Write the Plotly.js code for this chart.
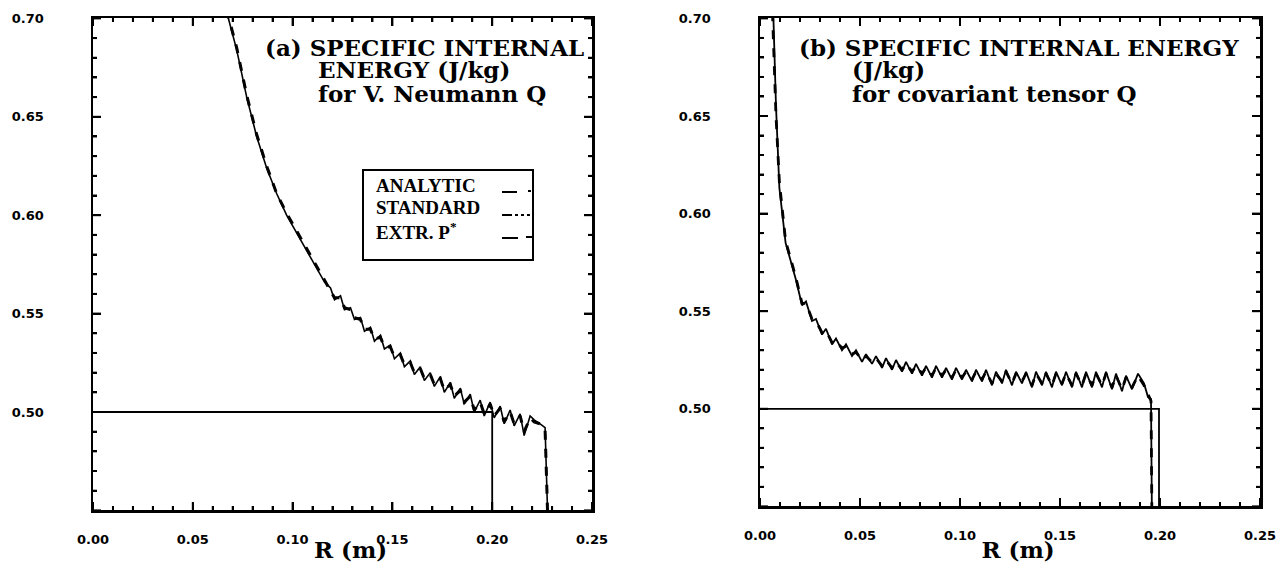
<!DOCTYPE html>
<html>
<head>
<meta charset="utf-8">
<script src="https://cdn.plot.ly/plotly-3.0.1.min.js"></script>
<style>html,body{margin:0;padding:0;background:#fff;}#chart{width:1282px;height:563px;}</style>
</head>
<body>
<div id="chart"></div>
<script>
// ---------------- DATA ----------------
// Panel (a): V. Neumann Q
const analyticAR = [0.000, 0.200, 0.200];
const analyticAE = [0.500, 0.500, 0.400];
const numAR = [0.060,0.068,0.072,0.077,0.082,0.087,0.092,0.097,0.102,0.107,0.112,0.116,
  0.119,0.121,0.124,0.126,0.129,0.131,0.134,0.136,0.139,0.141,0.144,0.146,0.149,0.151,
  0.154,0.156,0.159,0.161,0.164,0.166,0.169,0.171,0.174,0.176,0.179,0.181,0.184,0.186,
  0.189,0.191,0.194,0.196,0.199,0.201,0.204,0.206,0.209,0.211,0.214,0.216,0.219,0.221,
  0.224,0.2265,0.228];
const standardAE = [0.730,0.700,0.684,0.660,0.640,0.624,0.611,0.600,0.591,0.582,0.573,0.566,
  0.563,0.557,0.559,0.552,0.553,0.547,0.548,0.541,0.543,0.536,0.539,0.532,0.534,0.527,
  0.530,0.523,0.526,0.519,0.523,0.516,0.520,0.513,0.518,0.510,0.515,0.507,0.512,0.504,
  0.509,0.500,0.506,0.498,0.505,0.497,0.503,0.494,0.501,0.493,0.499,0.488,0.498,0.496,
  0.494,0.492,0.440];
const extrAE = [0.731,0.701,0.685,0.661,0.641,0.625,0.611,0.601,0.592,0.583,0.574,0.567,
  0.562,0.558,0.558,0.553,0.552,0.548,0.547,0.542,0.542,0.537,0.538,0.533,0.533,0.528,
  0.529,0.524,0.525,0.520,0.522,0.517,0.519,0.514,0.517,0.511,0.514,0.508,0.511,0.505,
  0.508,0.501,0.505,0.499,0.504,0.498,0.502,0.495,0.500,0.494,0.498,0.490,0.497,0.495,
  0.494,0.491,0.440];

// Panel (b): covariant tensor Q
const analyticBR = [0.000, 0.1995, 0.1995];
const analyticBE = [0.500, 0.500, 0.400];
const numBR = [0.005,0.0066,0.008,0.0097,0.011,0.0128,0.015,0.018,0.021,
  0.023,0.026,0.028,0.031,0.033,0.036,0.038,0.041,0.043,0.046,0.048,0.051,0.053,0.056,
  0.058,0.061,0.063,0.066,0.068,0.071,0.073,0.076,0.078,0.081,0.083,0.086,0.088,0.091,
  0.093,0.096,0.098,0.101,0.103,0.106,0.108,0.111,0.113,0.116,0.118,0.121,0.123,0.126,
  0.128,0.131,0.133,0.136,0.138,0.141,0.143,0.146,0.148,0.151,0.153,0.156,0.158,0.161,
  0.163,0.166,0.168,0.171,0.173,0.176,0.178,0.181,0.183,0.186,0.189,0.192,0.194,0.1955,0.196];
const standardBE = [0.760,0.700,0.655,0.613,0.600,0.585,0.577,0.566,0.553,
  0.555,0.545,0.546,0.538,0.541,0.533,0.536,0.530,0.533,0.527,0.530,0.524,0.528,0.523,
  0.527,0.521,0.526,0.520,0.525,0.519,0.524,0.518,0.523,0.517,0.522,0.516,0.522,0.516,
  0.521,0.515,0.521,0.515,0.520,0.514,0.520,0.514,0.520,0.512,0.519,0.513,0.520,0.512,
  0.519,0.513,0.519,0.511,0.519,0.512,0.519,0.511,0.519,0.512,0.519,0.511,0.519,0.511,
  0.519,0.511,0.519,0.511,0.519,0.510,0.518,0.509,0.517,0.510,0.518,0.513,0.506,0.505,0.440];
const extrBE = [0.740,0.690,0.650,0.616,0.603,0.586,0.578,0.567,0.554,
  0.554,0.546,0.545,0.539,0.540,0.534,0.535,0.531,0.532,0.528,0.529,0.525,0.527,0.524,
  0.526,0.522,0.525,0.521,0.524,0.520,0.523,0.519,0.522,0.518,0.521,0.517,0.521,0.517,
  0.520,0.516,0.520,0.516,0.519,0.515,0.519,0.515,0.519,0.513,0.518,0.514,0.519,0.513,
  0.518,0.514,0.518,0.512,0.518,0.513,0.518,0.512,0.518,0.513,0.518,0.512,0.518,0.512,
  0.518,0.512,0.518,0.512,0.518,0.511,0.517,0.510,0.516,0.511,0.517,0.512,0.507,0.504,0.440];

const xTickStart = 0.00, xTickStep = 0.05;
const yTickStart = 0.50, yTickStep = 0.05;
const minorStep = 0.01;
const xMinorCount = 25;            // 0.00 .. 0.25 in steps of 0.01
const yMinorFrom = 45, yMinorTo = 70; // 0.45 .. 0.70 in steps of 0.01

const seriesNames = ['ANALYTIC','STANDARD','EXTR. P*'];
const titleA = ['(a) SPECIFIC INTERNAL','ENERGY (J/kg)','for V. Neumann Q'];
const titleB = ['(b) SPECIFIC INTERNAL ENERGY','(J/kg)','for covariant tensor Q'];
const xTitle = '&nbsp;&nbsp;R (m)';

// ---------------- LAYOUT HELPERS ----------------
const W = 1282, H = 563;
const px = v => v / W;
const py = v => 1 - v / H;

const tickFont = {family:'DejaVu Sans', size:13, color:'#000', weight:'bold'};
const titleFont = {family:'DejaVu Serif', size:23, color:'#000', weight:'bold'};
const legFont = {family:'Liberation Serif', size:19, color:'#000', weight:'bold'};

function xAxis(domain, anchor){
  return {domain, anchor, range:[0,0.25], tickmode:'linear', tick0:xTickStart, dtick:xTickStep, tickformat:'.2f',
    ticks:'inside', ticklen:8, tickwidth:2, tickcolor:'#000', mirror:'ticks',
    showline:true, linewidth:2.5, linecolor:'#000', showgrid:false, zeroline:false,
    minor:{tickmode:'linear', tick0:0, dtick:minorStep, ticks:'inside', ticklen:4, tickwidth:2, tickcolor:'#000', showgrid:false},
    tickfont:tickFont, ticklabelstandoff:16, automargin:false,
    title:{text:xTitle, font:{family:'DejaVu Serif', size:23, color:'#000', weight:'bold'}, standoff:1}};
}
function yAxis(domain, anchor){
  return {domain, anchor, range:[0.4502,0.7002], tickmode:'linear', tick0:yTickStart, dtick:yTickStep, tickformat:'.2f',
    ticks:'inside', ticklen:8, tickwidth:2, tickcolor:'#000', mirror:'ticks',
    showline:true, linewidth:2.5, linecolor:'#000', showgrid:false, zeroline:false,
    minor:{tickmode:'linear', tick0:0, dtick:minorStep, ticks:'inside', ticklen:4, tickwidth:2, tickcolor:'#000', showgrid:false},
    tickfont:tickFont, ticklabelstandoff:44, automargin:false};
}

const traces = [
  {x:analyticAR, y:analyticAE, xaxis:'x', yaxis:'y', mode:'lines', name:seriesNames[0], line:{color:'#000', width:1.8}},
  {x:numAR, y:standardAE, xaxis:'x', yaxis:'y', mode:'lines', name:seriesNames[1], line:{color:'#000', width:1.6}},
  {x:numAR, y:extrAE, xaxis:'x', yaxis:'y', mode:'lines', name:seriesNames[2], line:{color:'#000', width:3, dash:'dash'}},
  {x:analyticBR, y:analyticBE, xaxis:'x2', yaxis:'y2', mode:'lines', name:seriesNames[0], line:{color:'#000', width:1.8}},
  {x:numBR, y:standardBE, xaxis:'x2', yaxis:'y2', mode:'lines', name:seriesNames[1], line:{color:'#000', width:1.8}},
  {x:numBR, y:extrBE, xaxis:'x2', yaxis:'y2', mode:'lines', name:seriesNames[2], line:{color:'#000', width:2.8, dash:'dash'}}
];

const annotations = [];
function addText(t, x, y, font){
  annotations.push({text:t, xref:'paper', yref:'paper', x:px(x), y:py(y), xanchor:'left', yanchor:'middle', showarrow:false, font});
}
addText(titleA[0], 263, 47, titleFont);
addText(titleA[1], 316, 70, titleFont);
addText(titleA[2], 316, 93, titleFont);
addText(titleB[0], 797, 47, titleFont);
addText(titleB[1], 850, 70, titleFont);
addText(titleB[2], 850, 93, titleFont);
addText(seriesNames[0], 374, 185, legFont);
addText(seriesNames[1], 374, 208, legFont);
addText('EXTR. P<sup>*</sup>', 374, 231, legFont);

const shapes = [
  {type:'rect', xref:'paper', yref:'paper', x0:px(363), x1:px(533), y0:py(260), y1:py(170), line:{color:'#000', width:2}},
  // legend line samples
  {type:'line', xref:'paper', yref:'paper', x0:px(502), x1:px(517), y0:py(192), y1:py(192), line:{color:'#000', width:2}},
  {type:'line', xref:'paper', yref:'paper', x0:px(528), x1:px(531), y0:py(191), y1:py(191), line:{color:'#000', width:2}},
  {type:'line', xref:'paper', yref:'paper', x0:px(502), x1:px(512), y0:py(215), y1:py(215), line:{color:'#000', width:2}},
  {type:'line', xref:'paper', yref:'paper', x0:px(515), x1:px(531), y0:py(215), y1:py(215), line:{color:'#000', width:2, dash:'dot'}},
  {type:'line', xref:'paper', yref:'paper', x0:px(502), x1:px(518), y0:py(238), y1:py(238), line:{color:'#000', width:2}},
  {type:'line', xref:'paper', yref:'paper', x0:px(526), x1:px(532), y0:py(237), y1:py(237), line:{color:'#000', width:2}}
];

// Tick marks on all four sides, positioned through the axes' own scales
function addFrameTicks(xa, ya, plotW, plotH){
  const tk = {color:'#000', width:2};
  for (let i = 0; i <= xMinorCount; i++) {
    const v = i * minorStep;
    const len = (i % 5 === 0 ? 8 : 4) / plotH;
    shapes.push({type:'line', xref:xa, yref:ya + ' domain', x0:v, x1:v, y0:0, y1:len, line:tk});
    shapes.push({type:'line', xref:xa, yref:ya + ' domain', x0:v, x1:v, y0:1, y1:1 - len, line:tk});
  }
  for (let k = yMinorFrom; k <= yMinorTo; k++) {
    const v = k / 100;
    const len = (k % 5 === 0 ? 8 : 4) / plotW;
    shapes.push({type:'line', xref:xa + ' domain', yref:ya, x0:0, x1:len, y0:v, y1:v, line:tk});
    shapes.push({type:'line', xref:xa + ' domain', yref:ya, x0:1, x1:1 - len, y0:v, y1:v, line:tk});
  }
}
addFrameTicks('x', 'y', 499, 492);
addFrameTicks('x2', 'y2', 500, 488);

const layout = {
  width:W, height:H, margin:{l:0, r:0, t:0, b:0},
  paper_bgcolor:'#fff', plot_bgcolor:'#fff', showlegend:false,
  xaxis:xAxis([px(93), px(592)], 'y'),
  yaxis:yAxis([py(510), py(18)], 'x'),
  xaxis2:xAxis([px(760), px(1260)], 'y2'),
  yaxis2:yAxis([py(506), py(18)], 'x2'),
  annotations, shapes
};

Plotly.newPlot('chart', traces, layout, {staticPlot:true});
</script>
</body>
</html>
